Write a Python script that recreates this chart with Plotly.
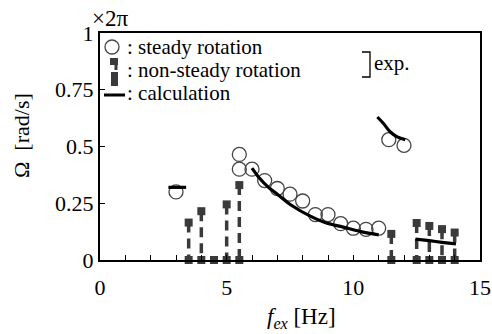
import plotly.graph_objects as go

# ---- data ----
steady_x = [3.0, 5.5, 5.5, 6.0, 6.5, 7.0, 7.5, 8.0, 8.5, 9.0, 9.5, 10.0, 10.5, 11.0, 11.4, 12.0]
steady_y = [0.30, 0.465, 0.40, 0.40, 0.35, 0.315, 0.29, 0.26, 0.20, 0.20, 0.16, 0.14, 0.135, 0.14, 0.53, 0.505]

nonsteady_x = [3.5, 4.0, 4.5, 5.0, 5.5, 11.5, 12.5, 13.0, 13.5, 14.0]
nonsteady_top = [0.165, 0.215, 0.0, 0.245, 0.33, 0.115, 0.163, 0.15, 0.136, 0.121]

calc1_x = [2.7, 3.4]
calc1_y = [0.32, 0.32]
calc2_x = [6.0, 6.3, 6.65, 7.0, 7.57, 8.3, 8.88, 9.6, 10.3, 11.0]
calc2_y = [0.405, 0.36, 0.32, 0.29, 0.24, 0.193, 0.165, 0.145, 0.125, 0.111]
calc3_x = [10.95, 11.2, 11.45, 11.7, 12.05]
calc3_y = [0.63, 0.60, 0.565, 0.545, 0.53]
calc4_x = [12.45, 13.0, 13.5, 14.05]
calc4_y = [0.092, 0.085, 0.078, 0.071]

x_ticks = [0, 5, 10, 15]
y_ticks = [0, 0.25, 0.5, 0.75, 1]
y_ticklabels = ["0", "0.25", "0.5", "0.75", "1"]

FONT = "Liberation Serif"
DARK = "#3a3a3a"

fig = go.Figure()

# non-steady dashed stems
sx, sy = [], []
for xv, tv in zip(nonsteady_x, nonsteady_top):
    if tv > 0:
        sx += [xv, xv, None]
        sy += [tv, 0, None]
fig.add_trace(go.Scatter(x=sx, y=sy, mode="lines",
                         line=dict(color=DARK, width=3.5, dash="10px,6px"),
                         showlegend=False, hoverinfo="skip"))
tx = [x for x, t in zip(nonsteady_x, nonsteady_top) if t > 0]
ty = [t for t in nonsteady_top if t > 0]
fig.add_trace(go.Scatter(x=tx, y=ty, mode="markers",
                         marker=dict(symbol="square", size=8, color=DARK),
                         showlegend=False, cliponaxis=False))
fig.add_trace(go.Scatter(x=nonsteady_x, y=[0] * len(nonsteady_x), mode="markers",
                         marker=dict(symbol="square", size=8, color=DARK),
                         showlegend=False, cliponaxis=False))

# steady circles
fig.add_trace(go.Scatter(x=steady_x, y=steady_y, mode="markers",
                         marker=dict(symbol="circle-open", size=14, color="#444",
                                     line=dict(width=1.3, color="#444")),
                         showlegend=False))

# calculation curves
for cx, cy in [(calc1_x, calc1_y), (calc2_x, calc2_y), (calc3_x, calc3_y), (calc4_x, calc4_y)]:
    fig.add_trace(go.Scatter(x=cx, y=cy, mode="lines",
                             line=dict(color="black", width=3.2, shape="spline"),
                             showlegend=False))

# pixel -> paper helpers (plot area: x 100..480, y 33..260)
L, R, T, B = 100, 480, 33, 260
def px(v):
    return (v - L) / (R - L)
def py(v):
    return (B - v) / (B - T)

shapes = []
# legend symbols
shapes.append(dict(type="circle", xref="paper", yref="paper",
                   x0=px(105), x1=px(119), y0=py(54), y1=py(40),
                   line=dict(color="#444", width=1.3)))
shapes.append(dict(type="rect", xref="paper", yref="paper",
                   x0=px(110), x1=px(118), y0=py(65), y1=py(58),
                   fillcolor=DARK, line=dict(width=0)))
shapes.append(dict(type="line", xref="paper", yref="paper",
                   x0=px(116), x1=px(116), y0=py(70), y1=py(64),
                   line=dict(color=DARK, width=3)))
shapes.append(dict(type="rect", xref="paper", yref="paper",
                   x0=px(111), x1=px(118), y0=py(86), y1=py(72),
                   fillcolor=DARK, line=dict(width=0)))
shapes.append(dict(type="line", xref="paper", yref="paper",
                   x0=px(104), x1=px(125), y0=py(95), y1=py(95),
                   line=dict(color="black", width=3)))
# bracket
shapes.append(dict(type="path", xref="paper", yref="paper",
                   path=f"M {px(362)} {py(52)} L {px(370)} {py(52)} L {px(370)} {py(77)} L {px(362)} {py(77)}",
                   line=dict(color="black", width=1.3)))

annotations = []
def txt(x, y, s, size=21, anchor="left", angle=0):
    annotations.append(dict(xref="paper", yref="paper", x=px(x), y=py(y), text=s,
                            showarrow=False, xanchor=anchor, yanchor="middle",
                            textangle=angle,
                            font=dict(family=FONT, size=size, color="black")))
txt(125, 46.5, ": steady rotation", size=21)
txt(125, 69.5, ": non-steady rotation", size=21)
txt(125, 92.5, ": calculation", size=21)
txt(372, 63, "exp.", size=21)
txt(90, 19, "×2π", size=23)
txt(301, 318, "<i>f</i><sub><i>ex</i></sub> [Hz]", size=23, anchor="center")
txt(21, 136, "Ω  [rad/s]", size=22, anchor="center", angle=-90)

fig.update_layout(
    width=492, height=334,
    margin=dict(l=L, r=492 - R, t=T, b=334 - B, autoexpand=False),
    paper_bgcolor="white", plot_bgcolor="white",
    font=dict(family=FONT, size=21, color="black"),
    shapes=shapes, annotations=annotations,
    xaxis=dict(range=[0, 15], tickvals=x_ticks, ticks="inside", ticklen=5,
               tickwidth=1.3, tickcolor="black", automargin=False, ticklabelstandoff=7,
               minor=dict(dtick=1, ticks="inside", ticklen=5, tickwidth=1.3, tickcolor="black"),
               showline=True, linecolor="black", linewidth=2, mirror=True,
               showgrid=False, zeroline=False, tickfont=dict(size=22, family=FONT)),
    yaxis=dict(range=[0, 1], tickvals=y_ticks, ticktext=y_ticklabels, ticks="inside",
               ticklen=5, tickwidth=1.3, tickcolor="black", automargin=False,
               showline=True, linecolor="black", linewidth=2, mirror=True,
               showgrid=False, zeroline=False, tickfont=dict(size=22, family=FONT)),
)

fig.write_html("out.html", config={"displayModeBar": False},
               post_script="document.body.style.margin='0px';document.body.style.overflow='hidden';")
